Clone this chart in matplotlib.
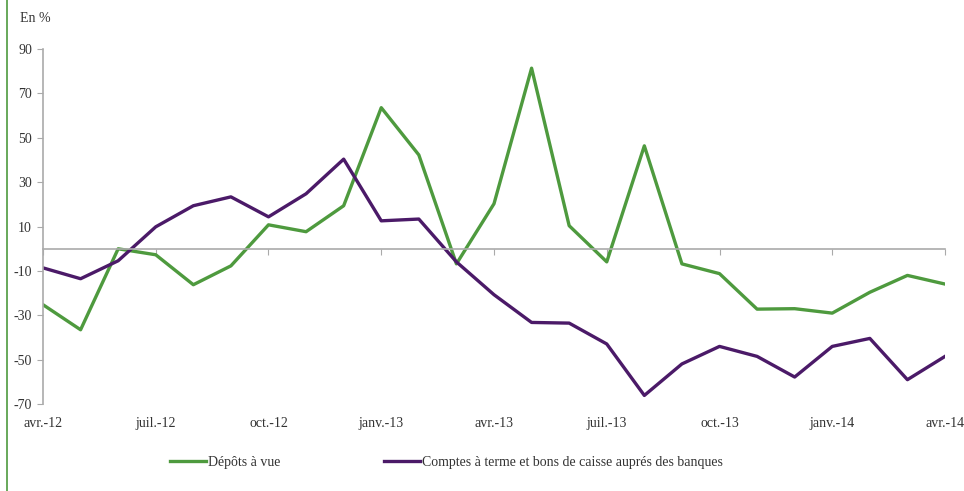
import matplotlib
matplotlib.use("Agg")
import matplotlib.pyplot as plt
from matplotlib.lines import Line2D
from matplotlib.transforms import blended_transform_factory

# Mois : avril 2012 -> avril 2014 (25 points)
mois = list(range(25))
etiquettes = ["avr.-12", "juil.-12", "oct.-12", "janv.-13", "avr.-13",
              "juil.-13", "oct.-13", "janv.-14", "avr.-14"]
pos_etiquettes = [0, 3, 6, 9, 12, 15, 18, 21, 24]

depots_vue = [-25.2, -36.5, 0.0, -2.7, -16.2, -7.7, 10.8, 7.7, 19.4, 63.6,
              42.3, -6.8, 20.3, 81.4, 10.4, -5.9, 46.4, -6.8, -11.2, -27.2,
              -27.0, -29.0, -19.6, -12.0, -15.9]
comptes_terme = [-8.6, -13.5, -5.4, 9.9, 19.4, 23.4, 14.4, 24.8, 40.4, 12.6,
                 13.4, -5.9, -20.7, -33.2, -33.5, -42.9, -66.1, -51.9, -44.0,
                 -48.5, -57.8, -44.0, -40.4, -59.0, -48.5]

vert = "#4E9A3E"
violet = "#4B1A68"
gris = "#AAAAAA"
texte = "#333333"

plt.rcParams['font.family'] = ['Liberation Serif', 'DejaVu Serif']
plt.rcParams['axes.unicode_minus'] = False

fig = plt.figure(figsize=(9.64, 4.91), dpi=100)
ax = fig.add_axes([0.0446, 0.177, 0.9357, 0.723])

l1, = ax.plot(mois, depots_vue, color=vert, lw=2.4, label="Dépôts à vue")
l2, = ax.plot(mois, comptes_terme, color=violet, lw=2.4,
              label="Comptes à terme et bons de caisse auprés des banques")

ax.set_xlim(0, 24)
ax.set_ylim(-70, 90)
ax.set_yticks(range(-70, 91, 20))

# axe horizontal sur zéro
ax.spines['bottom'].set_position(('data', 0))
ax.spines['bottom'].set_color(gris)
ax.spines['bottom'].set_linewidth(1.2)
ax.spines['left'].set_color(gris)
ax.spines['left'].set_linewidth(1.2)
ax.spines['top'].set_visible(False)
ax.spines['right'].set_visible(False)
ax.set_xticks(pos_etiquettes)
ax.set_xticklabels([])
ax.tick_params(axis='x', direction='out', length=4, color=gris)
ax.tick_params(axis='y', direction='out', length=4, color=gris,
               labelsize=10, labelcolor=texte, pad=4)

trans = blended_transform_factory(ax.transData, ax.transAxes)
for p, lab in zip(pos_etiquettes, etiquettes):
    ax.text(p, -0.055, lab, transform=trans, ha='center', va='center',
            fontsize=10, color=texte)

fig.text(0.021, 0.963, "En %", fontsize=10, color=texte, va='center')

fig.legend(handles=[l1, l2], loc='center', bbox_to_anchor=(0.463, 0.059),
           ncol=2, frameon=False, fontsize=10, handlelength=2.6,
           handletextpad=0.1, columnspacing=7.5, labelcolor=texte)

# trait vert à gauche
fig.add_artist(Line2D([0.0075, 0.0075], [0, 1], color=vert, lw=1.2,
                      transform=fig.transFigure))

fig.savefig("out.png", dpi=100)
